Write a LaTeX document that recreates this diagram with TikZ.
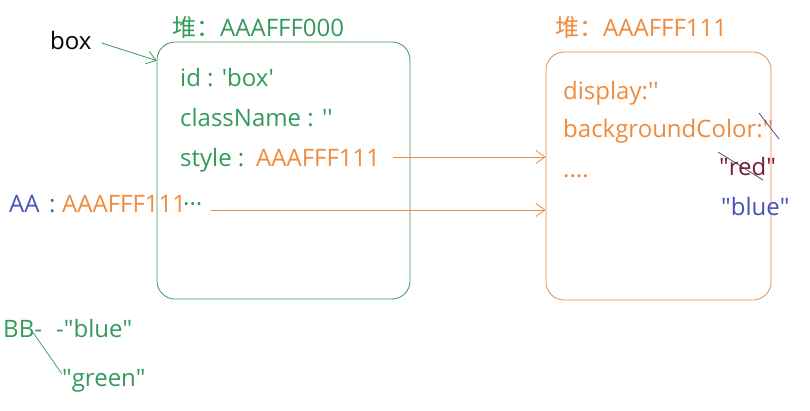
\documentclass[tikz,border=0pt]{standalone}
\usepackage{fontspec}
\setmainfont{Open Sans}
\newfontfamily\cjk{Noto Sans CJK SC}
\usetikzlibrary{arrows.meta}
\definecolor{cgreen}{RGB}{52,154,92}
\definecolor{corange}{RGB}{240,138,60}
\definecolor{cblue}{RGB}{72,80,190}
\definecolor{cred}{RGB}{122,30,55}
\definecolor{cnavy}{RGB}{60,60,120}
\newcommand{\sq}{\textquotesingle}
\newcommand{\dq}{\textquotedbl}
\begin{document}
\begin{tikzpicture}[x=1pt,y=-1pt,
  txt/.style={anchor=base west,inner sep=0pt,font=\fontsize{24}{28}\selectfont},
  gtxt/.style={txt,text=cgreen},
  otxt/.style={txt,text=corange},
  membox/.style={draw,rounded corners=18pt,line width=0.8pt,inner sep=0pt},
  conn/.style={line width=0.8pt,-{Straight Barb[length=9pt,width=13pt,line width=0.8pt]}},
  strike/.style={cnavy,line width=0.7pt}]
\useasboundingbox (0,0) rectangle (810,410);
\fill[white] (0,0) rectangle (810,410);
% boxes
\node[membox,cgreen,minimum width=253pt,minimum height=257pt] (gbox) at (283.5,170.5) {};
\node[membox,corange,minimum width=225pt,minimum height=248pt] (obox) at (658.5,176) {};
% titles
\node[gtxt] (gtitle) at (172,36) {{\cjk 堆：}AAAFFF000};
\node[otxt] (otitle) at (555,36) {{\cjk 堆：}AAAFFF111};
% box label
\node[txt] (boxlbl) at (50,49) {box};
\coordinate (gentry) at ([yshift=-19pt]gbox.north west);
\draw[conn,cgreen] ([xshift=10pt,yshift=6pt]boxlbl.base east) -- (gentry);
% green box content
\node[gtxt] (idl) at (180,86) {id : \sq box\sq};
\node[gtxt] (cls) at (180,126) {className : \sq\sq};
\node[gtxt] (sty) at (180,166) {style :};
\node[otxt] (sval) at (256,166) {AAAFFF111};
\draw[conn,corange] ([xshift=13pt,yshift=9pt]sval.base east) -- ([yshift=9pt]sval.base east -| obox.west);
% AA line
\node[txt,text=cblue] (aa) at (9,212) {AA};
\node[txt,text=cblue!70!gray] (aacol) at (49,212) {:};
\node[otxt] (aaval) at (62,212) {AAAFFF111};
\node[gtxt] (aadots) at (183,212) {···};
\draw[conn,corange] (211,210) coordinate (aastart) -- (aastart -| obox.west);
% orange box content
\node[otxt] (disp) at (563,99) {display:\sq\sq};
\node[otxt] (bg) at (563,137) {backgroundColor:\sq\sq};
\node[otxt] (dots) at (563,177) {....};
\node[txt,text=cred] (red) at (719,175) {\dq red\dq};
\node[txt,text=cblue] (blue) at (721,215) {\dq blue\dq};
\draw[strike] (759,113) -- (779,139);
\draw[strike] (718,152) -- (763,180);
% BB
\node[gtxt] (bb) at (3,337) {BB-};
\node[gtxt] (bblue) at (56,337) {-\dq blue\dq};
\node[gtxt] (bgreen) at (62,386) {\dq green\dq};
\draw[cgreen,line width=0.7pt] (32,331) coordinate (bbs) -- (62,374) coordinate (bbe);
\end{tikzpicture}
\end{document}
